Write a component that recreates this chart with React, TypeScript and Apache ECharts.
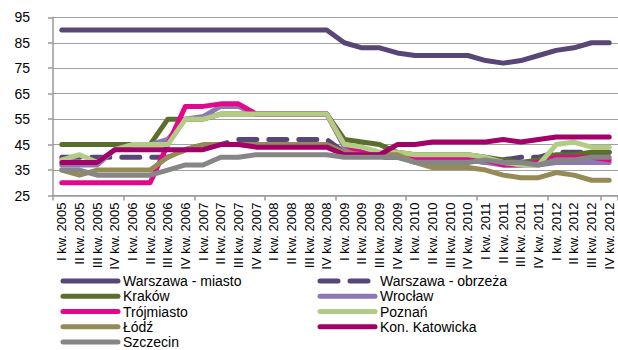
import React, { useEffect, useRef } from "react";
import * as echarts from "echarts";

const years = [2005, 2006, 2007, 2008, 2009, 2010, 2011, 2012];
const quarters = ["I", "II", "III", "IV"];
const categories: string[] = [];
years.forEach((y) => quarters.forEach((q) => categories.push(`${q} kw. ${y}`)));

const yTicks = { min: 25, max: 95, interval: 10 };

const warszawaMiasto = [90, 90, 90, 90, 90, 90, 90, 90, 90, 90, 90, 90, 90, 90, 90, 90, 85, 83, 83, 81, 80, 80, 80, 80, 78, 77, 78, 80, 82, 83, 85, 85];
const warszawaObrzeza = [40, 40, 40, 40, 40, 40, 40, 43, 45, 45, 47, 47, 47, 47, 47, 47, 42, 41, 40, 40, 39, 39, 39, 39, 38, 39, 40, 40, 42, 42, 42, 42];
const krakow = [45, 45, 45, 45, 45, 45, 55, 55, 55, 57, 57, 57, 57, 57, 57, 57, 47, 46, 45, 42, 41, 41, 41, 41, 40, 39, 38, 39, 41, 41, 42, 42];
const wroclaw = [37, 37, 37, 43, 45, 45, 47, 55, 56, 60, 60, 57, 57, 57, 57, 57, 44, 42, 41, 41, 40, 39, 39, 39, 38, 37, 37, 37, 38, 38, 38, 38];
const trojmiasto = [30, 30, 30, 30, 30, 30, 45, 60, 60, 61, 61, 57, 57, 57, 57, 57, 45, 42, 41, 41, 40, 40, 40, 40, 39, 37, 37, 38, 40, 40, 40, 39];
const poznan = [39, 41, 38, 43, 45, 45, 45, 55, 55, 57, 57, 57, 57, 57, 57, 57, 45, 44, 42, 42, 41, 41, 41, 41, 40, 38, 37, 37, 45, 46, 44, 44];
const lodz = [35, 33, 35, 35, 35, 35, 40, 43, 45, 45, 45, 45, 45, 45, 45, 45, 42, 41, 41, 41, 38, 36, 36, 36, 35, 33, 32, 32, 34, 33, 31, 31];
const konKatowicka = [38, 38, 38, 43, 43, 43, 43, 43, 43, 45, 45, 44, 44, 44, 44, 44, 41, 41, 41, 45, 45, 46, 46, 46, 46, 47, 46, 47, 48, 48, 48, 48];
const szczecin = [35, 35, 33, 33, 33, 33, 35, 37, 37, 40, 40, 41, 41, 41, 41, 41, 40, 40, 40, 40, 38, 38, 38, 38, 39, 38, 38, 37, 39, 39, 40, 40];

const seriesDefs = [
  { name: "Warszawa - miasto", data: warszawaMiasto, color: "#574676", dashed: false },
  { name: "Warszawa - obrzeża", data: warszawaObrzeza, color: "#574676", dashed: true },
  { name: "Kraków", data: krakow, color: "#5A6E2D", dashed: false },
  { name: "Wrocław", data: wroclaw, color: "#8E78B4", dashed: false },
  { name: "Trójmiasto", data: trojmiasto, color: "#E2078C", dashed: false },
  { name: "Poznań", data: poznan, color: "#B3CC83", dashed: false },
  { name: "Łódź", data: lodz, color: "#948B55", dashed: false },
  { name: "Kon. Katowicka", data: konKatowicka, color: "#A3006A", dashed: false },
  { name: "Szczecin", data: szczecin, color: "#868686", dashed: false },
];

const leftLegend = ["Warszawa - miasto", "Kraków", "Trójmiasto", "Łódź", "Szczecin"];
const rightLegend = ["Warszawa - obrzeża", "Wrocław", "Poznań", "Kon. Katowicka"];

const FONT = "'Liberation Sans', Arial, sans-serif";

export default function App() {
  const ref = useRef<HTMLDivElement>(null);
  useEffect(() => {
    if (!ref.current) return;
    const chart = echarts.init(ref.current, undefined, { renderer: "svg" });
    const legendCommon = {
      orient: "vertical" as const,
      top: 274,
      itemWidth: 55,
      itemHeight: 10,
      itemGap: 1.25,
      padding: 0,
      textStyle: { fontSize: 14, lineHeight: 14, color: "#000", fontFamily: FONT },
      lineStyle: { width: 5, cap: "round" as const },
      itemStyle: { opacity: 0, borderWidth: 0 },
      selectedMode: false,
    };
    chart.setOption({
      animation: false,
      textStyle: { fontFamily: FONT },
      grid: { left: 53, top: 17.3, right: -3, bottom: 154.5, containLabel: false },
      legend: [
        { ...legendCommon, left: 60.5, data: leftLegend },
        { ...legendCommon, left: 317.5, data: rightLegend },
      ],
      xAxis: {
        type: "category",
        data: categories,
        boundaryGap: true,
        axisLine: { lineStyle: { color: "#9A9A9A", width: 1.5 } },
        axisTick: { show: true, interval: 3, length: 5, lineStyle: { color: "#9A9A9A", width: 1.5 } },
        axisLabel: { interval: 0, rotate: 90, fontSize: 13, color: "#000", margin: 7, fontFamily: FONT },
        splitLine: { show: false },
      },
      yAxis: {
        type: "value",
        min: yTicks.min,
        max: yTicks.max,
        interval: yTicks.interval,
        axisLine: { show: true, lineStyle: { color: "#9A9A9A", width: 1.5 } },
        axisTick: { show: true, length: 5, lineStyle: { color: "#9A9A9A", width: 1.5 } },
        axisLabel: { fontSize: 14, color: "#000", margin: 23, fontFamily: FONT },
        splitLine: { show: true, lineStyle: { color: "#A0A0A0", width: 1.2 } },
      },
      series: seriesDefs.map((s) => ({
        name: s.name,
        type: "line",
        data: s.data,
        symbol: "none",
        showSymbol: false,
        color: s.color,
        lineStyle: {
          color: s.color,
          width: 5,
          cap: "round",
          join: "round",
          type: s.dashed ? [18, 12] : "solid",
        },
      })),
    });
    return () => chart.dispose();
  }, []);
  return (
    <div
      ref={ref}
      style={{ position: "fixed", left: 0, top: 0, width: 618, height: 350, background: "#fff" }}
    />
  );
}
